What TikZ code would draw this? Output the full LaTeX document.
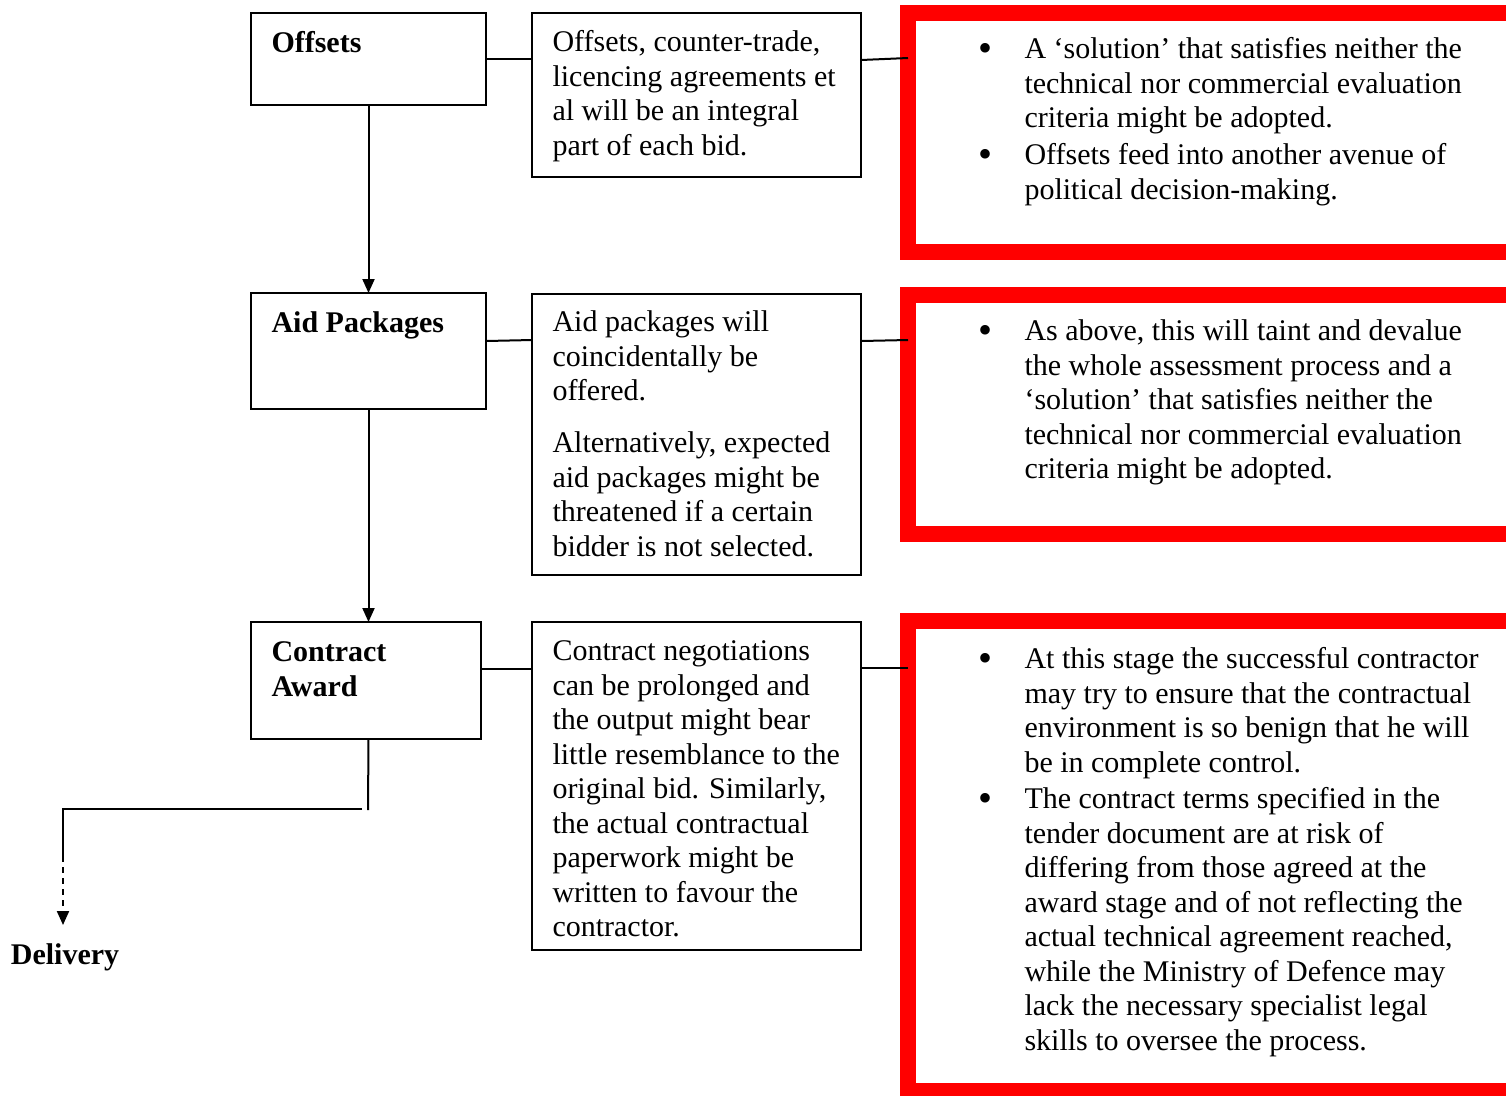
\documentclass[tikz,border=0pt]{standalone}
\usepackage{fontspec}
\setmainfont{Liberation Serif}
\usetikzlibrary{arrows.meta}
\newcommand\pxu{0.4pt}
\begin{document}
\begin{tikzpicture}[x=0.4pt, y=-0.4pt,
  box/.style={draw, line width=0.8pt, anchor=north west, inner sep=0pt, outer sep=0pt},
  redbox/.style={draw=red, line width=6.4pt, anchor=north west, inner sep=0pt, outer sep=0pt},
  txt/.style={anchor=north west, inner sep=0pt, align=left,
    font=\fontsize{12}{13.8}\selectfont},
  head/.style={txt, font=\fontsize{12}{14.2}\selectfont\bfseries},
  bul/.style={anchor=base, inner sep=0pt, yshift=-1.2pt, font=\fontsize{16}{16}\selectfont},
  link/.style={line width=0.8pt},
  flow/.style={line width=0.8pt, -{Triangle[width=4.8pt,length=5.6pt]}}]
\useasboundingbox (0,0) rectangle (1506,1095);
\clip (0,0) rectangle (1506,1095);

% stage boxes (left column)
\node[box, minimum width={235*\pxu}, minimum height={92*\pxu}]  (s1) at (251,13)  {};
\node[box, minimum width={235*\pxu}, minimum height={116*\pxu}] (s2) at (251,293) {};
\node[box, minimum width={230*\pxu}, minimum height={117*\pxu}] (s3) at (251,622) {};
\node[head] (s1t) at (271,27)  {\strut Offsets};
\node[head] (s2t) at (271,307) {\strut Aid Packages};
\node[head] (s3t) at (271,636) {\strut Contract\\Award};

% description boxes (middle column)
\node[box, minimum width={329*\pxu}, minimum height={164*\pxu}] (d1) at (532,13)  {};
\node[box, minimum width={329*\pxu}, minimum height={281*\pxu}] (d2) at (532,294) {};
\node[box, minimum width={329*\pxu}, minimum height={328*\pxu}] (d3) at (532,622) {};
\node[txt] (d1t) at (552,27) {\strut Offsets, counter-trade,\\licencing agreements et\\al will be an integral\\part of each bid.};
\node[txt] (d2t) at (552,307) {\strut Aid packages will\\coincidentally be\\offered.\\[7pt]Alternatively, expected\\aid packages might be\\threatened if a certain\\bidder is not selected.};
\node[txt] (d3t) at (552,636) {\strut Contract negotiations\\can be prolonged and\\the output might bear\\little resemblance to the\\original bid. Similarly,\\the actual contractual\\paperwork might be\\written to favour the\\contractor.};

% risk boxes (right column)
\node[redbox, minimum width={630*\pxu}, minimum height={239*\pxu}] (r1) at (908,13)  {};
\node[redbox, minimum width={630*\pxu}, minimum height={239*\pxu}] (r2) at (908,295) {};
\node[redbox, minimum width={630*\pxu}, minimum height={470*\pxu}] (r3) at (908,621) {};

\node[bul] (b1) at (985,58) {\textbullet};
\node[txt] (r1a) at (1024,34) {\strut A ‘solution’ that satisfies neither the\\technical nor commercial evaluation\\criteria might be adopted.};
\node[bul] (b2) at (985,164) {\textbullet};
\node[txt] (r1b) at (1024,140) {\strut Offsets feed into another avenue of\\political decision-making.};

\node[bul] (b3) at (985,340) {\textbullet};
\node[txt] (r2a) at (1024,316) {\strut As above, this will taint and devalue\\the whole assessment process and a\\‘solution’ that satisfies neither the\\technical nor commercial evaluation\\criteria might be adopted.};

\node[bul] (b4) at (985,668) {\textbullet};
\node[txt] (r3a) at (1024,644) {\strut At this stage the successful contractor\\may try to ensure that the contractual\\environment is so benign that he will\\be in complete control.};
\node[bul] (b5) at (985,808) {\textbullet};
\node[txt] (r3b) at (1024,784) {\strut The contract terms specified in the\\tender document are at risk of\\differing from those agreed at the\\award stage and of not reflecting the\\actual technical agreement reached,\\while the Ministry of Defence may\\lack the necessary specialist legal\\skills to oversee the process.};

% end point
\node[head, anchor=base] (dl) at (65,964) {Delivery};

% links between columns
\draw[link] (s1.east |- 0,59)  -- (d1.west |- 0,59);
\draw[link] (s2.east |- 0,341) -- (d2.west |- 0,340);
\draw[link] (s3.east |- 0,669) -- (d3.west |- 0,669);
\draw[link] (d1.east |- 0,60)  -- (r1.west |- 0,58);
\draw[link] (d2.east |- 0,341) -- (r2.west |- 0,340);
\draw[link] (d3.east |- 0,668) -- (r3.west |- 0,668);

% process flow
\draw[flow] (s1.south) -- (s1.south |- s2.north);
\draw[flow] (s2.south) -- (s2.south |- s3.north);
\coordinate (c1) at (368,810);
\coordinate (c2) at (362,809);
\coordinate (c3) at (63,809);
\coordinate (c4) at (63,856);
\coordinate (c5) at (63,925);
\draw[link] (s2.south |- s3.south) -- (c1);
\draw[link] (c2) -- (c3) -- (c4);
\draw[flow, dash pattern=on 2.4pt off 2pt] (c4) -- (c5);
\end{tikzpicture}
\end{document}
